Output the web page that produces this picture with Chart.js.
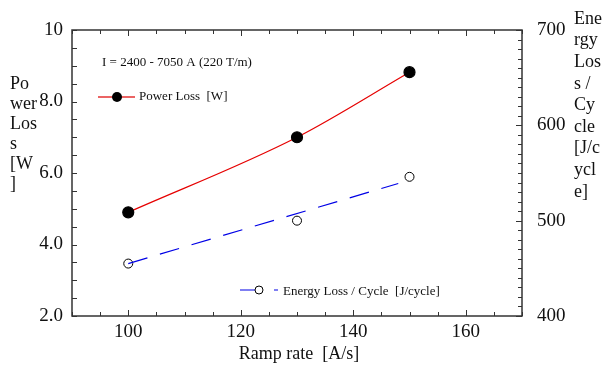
<!DOCTYPE html>
<html>
<head>
<meta charset="utf-8">
<script src="https://cdn.jsdelivr.net/npm/chart.js@4.4.0/dist/chart.umd.min.js"></script>
<style>
  html, body { margin: 0; padding: 0; background: #fff; }
  canvas { display: block; }
</style>
</head>
<body>
<canvas id="loss-chart" width="608" height="365"></canvas>
<script>
// values
const rampRates = [100, 130, 150];
const powerLoss = [4.9, 7.0, 8.82];
const energyLoss = [455, 500, 546];
const energyFitRates = [100, 148];
const energyFitLoss = [455, 539];

const xTickLabels = [100, 120, 140, 160];
const powerTickValues = [2, 4, 6, 8, 10];
const powerTickLabels = ['2.0', '4.0', '6.0', '8.0', '10'];
const energyTickLabels = [400, 500, 600, 700];

const serif = "'Liberation Serif', 'Times New Roman', serif";

const framePlugin = {
  id: 'frame',
  afterDatasetsDraw(chart) {
    const ctx = chart.ctx;
    const a = chart.chartArea;
    const x = chart.scales.x;
    const yp = chart.scales.yPower;
    const ye = chart.scales.yEnergy;
    ctx.save();

    // axis frame
    ctx.strokeStyle = '#333';
    ctx.lineWidth = 1.5;
    ctx.strokeRect(a.left, a.top, a.right - a.left, a.bottom - a.top);

    // inward ticks
    ctx.lineWidth = 1;
    ctx.beginPath();
    for (let v = 90; v <= 170; v += 5) {
      const px = Math.round(x.getPixelForValue(v)) + 0.5;
      const len = v % 20 === 0 ? 6 : 4;
      ctx.moveTo(px, a.bottom); ctx.lineTo(px, a.bottom - len);
      ctx.moveTo(px, a.top); ctx.lineTo(px, a.top + len);
    }
    for (let v = 2; v <= 10; v += 0.5) {
      const py = Math.round(yp.getPixelForValue(v)) + 0.5;
      ctx.moveTo(a.left, py); ctx.lineTo(a.left + 5, py);
    }
    for (let v = 400; v <= 700; v += 10) {
      const py = Math.round(ye.getPixelForValue(v)) + 0.5;
      ctx.moveTo(a.right, py); ctx.lineTo(a.right - (v % 100 === 0 ? 6 : 4), py);
    }
    ctx.stroke();

    // tick labels
    ctx.fillStyle = '#111';
    ctx.font = '19px ' + serif;
    ctx.textBaseline = 'middle';
    ctx.textAlign = 'center';
    xTickLabels.forEach(v => ctx.fillText(String(v), x.getPixelForValue(v), 332));
    ctx.textAlign = 'right';
    powerTickValues.forEach((v, i) => ctx.fillText(powerTickLabels[i], 63, yp.getPixelForValue(v)));
    ctx.textAlign = 'left';
    energyTickLabels.forEach(v => ctx.fillText(String(v), 537, ye.getPixelForValue(v)));

    // axis titles
    ctx.font = '18px ' + serif;
    ctx.textAlign = 'center';
    ctx.fillText('Ramp rate  [A/s]', 299, 354);
    ctx.textAlign = 'left';
    ['Po', 'wer', 'Los', 's', '[W', ']'].forEach((t, i) => ctx.fillText(t, 10, 84 + i * 20));
    ['Ene', 'rgy', 'Los', 's /', 'Cy', 'cle', '[J/c', 'ycl', 'e]'].forEach((t, i) => ctx.fillText(t, 574, 19 + i * 21.6));

    // annotations inside the plot
    ctx.font = '13px ' + serif;
    ctx.fillText('I = 2400 - 7050 A (220 T/m)', 102, 63);

    ctx.strokeStyle = 'rgb(235,100,100)';
    ctx.lineWidth = 2;
    ctx.beginPath(); ctx.moveTo(98, 97); ctx.lineTo(135, 97); ctx.stroke();
    ctx.fillStyle = '#000';
    ctx.beginPath(); ctx.arc(117, 97, 5, 0, Math.PI * 2); ctx.fill();
    ctx.fillStyle = '#111';
    ctx.fillText('Power Loss  [W]', 139, 97);

    ctx.strokeStyle = 'rgb(0,0,230)';
    ctx.lineWidth = 1.2;
    ctx.beginPath(); ctx.moveTo(240, 290); ctx.lineTo(255, 290); ctx.moveTo(274, 290); ctx.lineTo(278, 290); ctx.stroke();
    ctx.strokeStyle = '#000';
    ctx.lineWidth = 1;
    ctx.fillStyle = '#fff';
    ctx.beginPath(); ctx.arc(259, 290, 4, 0, Math.PI * 2); ctx.fill(); ctx.stroke();
    ctx.fillStyle = '#111';
    ctx.fillText('Energy Loss / Cycle  [J/cycle]', 283, 292);

    ctx.restore();
  }
};

const lossChart = new Chart(document.getElementById('loss-chart').getContext('2d'), {
  type: 'line',
  data: {
    datasets: [{
      data: energyFitRates.map((r, i) => ({ x: r, y: energyFitLoss[i] })),
      yAxisID: 'yEnergy',
      borderColor: 'rgb(0,0,230)',
      borderWidth: 1.2,
      borderDash: [20, 13],
      pointRadius: 0,
      fill: false
    }, {
      data: rampRates.map((r, i) => ({ x: r, y: energyLoss[i] })),
      yAxisID: 'yEnergy',
      showLine: false,
      pointRadius: 4.5,
      pointBackgroundColor: '#fff',
      pointBorderColor: '#000',
      pointBorderWidth: 1
    }, {
      data: rampRates.map((r, i) => ({ x: r, y: powerLoss[i] })),
      yAxisID: 'yPower',
      borderColor: 'rgb(230,0,0)',
      borderWidth: 1.2,
      cubicInterpolationMode: 'monotone',
      pointRadius: 5.5,
      pointBackgroundColor: '#000',
      pointBorderColor: '#000',
      fill: false
    }]
  },
  options: {
    responsive: false,
    animation: false,
    devicePixelRatio: 1,
    layout: {
      autoPadding: false,
      padding: { left: 72, top: 30, right: 86, bottom: 49 }
    },
    plugins: {
      legend: { display: false },
      tooltip: { enabled: false }
    },
    scales: {
      x: { type: 'linear', min: 90, max: 170, display: false },
      yPower: { type: 'linear', position: 'left', min: 2, max: 10, display: false },
      yEnergy: { type: 'linear', position: 'right', min: 400, max: 700, display: false }
    }
  },
  plugins: [framePlugin]
});
</script>
</body>
</html>
